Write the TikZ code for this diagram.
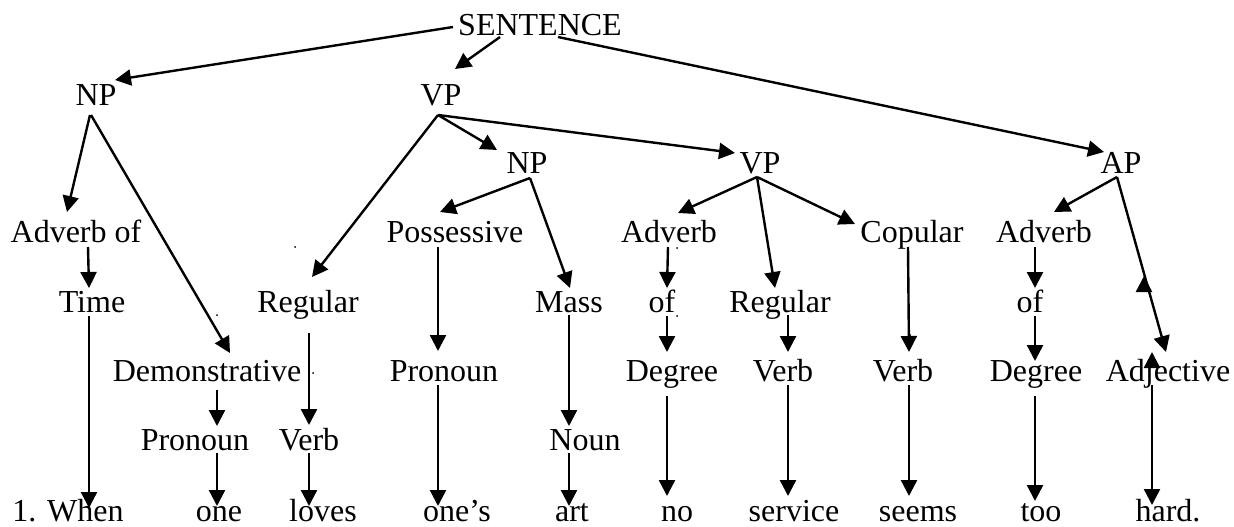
\documentclass[tikz,border=0pt]{standalone}
\usepackage{fontspec}
\setmainfont{Liberation Serif}
\usetikzlibrary{arrows.meta,calc}
\begin{document}
\begin{tikzpicture}[x=1pt,y=-1pt,
  lbl/.style={inner sep=0pt, anchor=base, font=\fontsize{32pt}{38pt}\selectfont},
  arr/.style={line width=2.4pt, -{Triangle[length=16pt,width=16pt]}},
  speck/.style={fill=black}]
\useasboundingbox[fill=white] (0,0) rectangle (1234,527);

% --- phrase level ---
\node[lbl] (sent) at (540,36) {SENTENCE};
\node[lbl] (np1)  at (96,105) {NP};
\node[lbl] (vp1)  at (441,105) {VP};
\node[lbl] (np2)  at (527,173) {NP};
\node[lbl] (vp2)  at (760,173) {VP};
\node[lbl] (ap)   at (1121,173) {AP};

% --- word classes ---
\node[lbl] (advof) at (76,242) {Adverb of};
\node[lbl] (poss)  at (455,242) {Possessive};
\node[lbl] (adv1)  at (669,242) {Adverb};
\node[lbl] (cop)   at (912,242) {Copular};
\node[lbl] (adv2)  at (1044,242) {Adverb};

\node[lbl] (time)  at (92,312) {Time};
\node[lbl] (reg1)  at (308,312) {Regular};
\node[lbl] (mass)  at (569,312) {Mass};
\node[lbl] (of1)   at (662,312) {of};
\node[lbl] (reg2)  at (780,312) {Regular};
\node[lbl] (of2)   at (1030,312) {of};

\node[lbl] (dem)   at (207,381) {Demonstrative};
\node[lbl] (pron2) at (444,381) {Pronoun};
\node[lbl] (deg1)  at (672,381) {Degree};
\node[lbl] (verb2) at (783,381) {Verb};
\node[lbl] (verb3) at (903,381) {Verb};
\node[lbl] (deg2)  at (1036,381) {Degree};
\node[lbl] (adj)   at (1168,381) {Adjective};

\node[lbl] (pron1) at (195,450) {Pronoun};
\node[lbl] (verb1) at (309,450) {Verb};
\node[lbl] (noun)  at (585,450) {Noun};

% --- the sentence ---
\node[lbl] (w1)  at (68,521) {1. When};
\node[lbl] (w2)  at (219,521) {one};
\node[lbl] (w3)  at (323,521) {loves};
\node[lbl] (w4)  at (457,521) {one’s};
\node[lbl] (w5)  at (572,521) {art};
\node[lbl] (w6)  at (677,521) {no};
\node[lbl] (w7)  at (794,521) {service};
\node[lbl] (w8)  at (918,521) {seems};
\node[lbl] (w9)  at (1041,521) {too};
\node[lbl] (w10) at (1168,521) {hard.};

% --- branches from the top ---
\draw[arr] ($(sent.base)+(-87,-9)$) -- ($(np1.base)+(19,-25)$);
\draw[arr] ($(sent.base)+(-40,1)$)  -- ($(vp1.base)+(14,-36)$);
\draw[arr] ($(sent.base)+(18,1)$)   -- ($(ap.base)+(-17,-21)$);

\draw[arr] ($(np1.base)+(-6,10)$) -- ($(advof.base)+(-9,-30)$);
\draw[arr] ($(np1.base)+(-5,10)$) -- ($(dem.base)+(23,-28)$);

\draw[arr] ($(vp1.base)+(-3,10)$) -- ($(reg1.base)+(4,-35)$);
\draw[arr] ($(vp1.base)+(-3,10)$) -- ($(np2.base)+(-30,-23)$);
\draw[arr] ($(vp1.base)+(-3,10)$) -- ($(vp2.base)+(-25,-20)$);

\draw[arr] ($(np2.base)+(3,5)$) -- ($(poss.base)+(-15,-30)$);
\draw[arr] ($(np2.base)+(3,5)$) -- ($(mass.base)+(1,-24)$);

\draw[arr] ($(vp2.base)+(-3,4)$) -- ($(adv1.base)+(9,-29)$);
\draw[arr] ($(vp2.base)+(-3,4)$) -- ($(reg2.base)+(-5,-24)$);
\draw[arr] ($(vp2.base)+(-3,4)$) -- ($(cop.base)+(-57,-18)$);

\draw[arr] ($(ap.base)+(-4,4)$) -- ($(adv2.base)+(10,-30)$);
\draw[arr] ($(ap.base)+(-4,4)$) -- ($(adj.base)+(-2,-29)$);

% --- vertical chains ---
\draw[arr] ($(advof.base)+(12,5)$) -- ($(time.base)+(-3,-24)$);
\draw[arr] ($(time.base)+(-3,4)$)  -- ($(w1.base)+(21,-13)$);

\draw[arr] ($(dem.base)+(10,9)$)    -- ($(pron1.base)+(22,-24)$);
\draw[arr] ($(pron1.base)+(22,3)$)  -- ($(w2.base)+(-2,-15)$);

\draw[arr] ($(reg1.base)+(1,21)$)   -- ($(verb1.base)+(0,-25)$);
\draw[arr] ($(verb1.base)+(0,3)$)   -- ($(w3.base)+(-14,-15)$);

\draw[arr] ($(poss.base)+(-17,5)$)  -- ($(pron2.base)+(-6,-30)$);
\draw[arr] ($(pron2.base)+(-6,4)$)  -- ($(w4.base)+(-19,-15)$);

\draw[arr] ($(mass.base)+(0,3)$)    -- ($(noun.base)+(-16,-24)$);
\draw[arr] ($(noun.base)+(-16,3)$)  -- ($(w5.base)+(-3,-15)$);

\draw[arr] ($(adv1.base)+(-1,5)$)   -- ($(of1.base)+(5,-24)$);
\draw[arr] ($(of1.base)+(5,4)$)     -- ($(deg1.base)+(-5,-29)$);
\draw[arr] ($(deg1.base)+(-5,15)$)  -- ($(w6.base)+(-10,-25)$);

\draw[arr] ($(reg2.base)+(8,3)$)    -- ($(verb2.base)+(5,-29)$);
\draw[arr] ($(verb2.base)+(5,4)$)   -- ($(w7.base)+(-6,-25)$);

\draw[arr] ($(cop.base)+(-4,5)$)    -- ($(verb3.base)+(6,-29)$);
\draw[arr] ($(verb3.base)+(6,4)$)   -- ($(w8.base)+(-9,-25)$);

\draw[arr] ($(adv2.base)+(-9,5)$)   -- ($(of2.base)+(5,-24)$);
\draw[arr] ($(of2.base)+(5,4)$)     -- ($(deg2.base)+(-1,-20)$);
\draw[arr] ($(deg2.base)+(-1,15)$)  -- ($(w9.base)+(-6,-20)$);

\draw[arr] ($(adj.base)+(-16,4)$)   -- ($(w10.base)+(-16,-16)$);
% upward heads around the adjective column
\draw[arr] ($(adj.base)+(-16,-13)$) -- ($(adj.base)+(-16,-29)$);
\draw[arr] ($(adj.base)+(-24,-89)$) -- ($(adj.base)+(-24,-105)$);

% small specks
\fill[speck] ($(advof.base)+(219,5)$) circle (1);
\fill[speck] ($(time.base)+(125,3)$) circle (1);
\fill[speck] ($(dem.base)+(106,-8)$) circle (1);
\fill[speck] ($(of1.base)+(15,4)$) circle (1);
\fill[speck] ($(adv1.base)+(8,6)$) circle (1);
\fill[speck] ($(cop.base)+(-2,93)$) circle (1);
\end{tikzpicture}
\end{document}
